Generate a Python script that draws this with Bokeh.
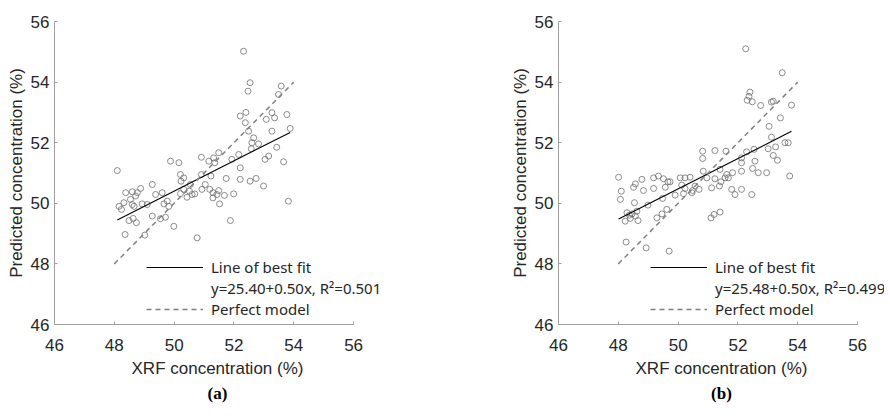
from bokeh.plotting import figure
from bokeh.layouts import row
from bokeh.models import Range1d, FixedTicker, Legend, LegendItem, Title
from bokeh.embed import file_html
from bokeh.resources import INLINE

# ---- data ----
xa = [52.32, 52.54, 52.47, 53.58, 53.49, 52.40, 53.27, 53.77, 52.21, 53.08, 53.36, 52.38, 52.49, 53.27,
      53.88, 52.66, 52.60, 52.82, 53.43, 52.58, 52.16, 51.93, 51.49, 51.32, 51.16, 51.36, 50.91, 49.88,
      50.16, 48.10, 52.21, 53.04, 53.16, 53.66, 50.21, 50.32, 50.91, 51.23, 51.74, 52.21, 52.74, 50.23,
      52.54, 52.99, 53.82, 48.38, 48.60, 48.77, 48.88, 49.27, 49.38, 49.60, 48.71, 48.54, 48.32, 48.16,
      48.24, 48.60, 48.66, 48.93, 49.10, 49.66, 49.77, 49.82, 50.21, 50.32, 50.51, 50.43, 50.60, 50.69,
      50.54, 50.93, 51.04, 51.19, 51.30, 51.43, 51.49, 51.68, 51.30, 51.52, 51.99, 48.49, 48.63, 48.74,
      49.27, 49.54, 49.71, 49.99, 51.88, 48.36, 49.02, 50.77]
ya = [55.02, 53.98, 53.70, 53.87, 53.59, 53.00, 52.99, 52.93, 52.88, 52.77, 52.82, 52.66, 52.38, 52.38,
      52.47, 52.16, 52.00, 51.96, 51.85, 51.80, 51.61, 51.45, 51.67, 51.50, 51.39, 51.34, 51.52, 51.39,
      51.34, 51.08, 51.17, 51.45, 51.56, 51.37, 50.95, 50.84, 50.95, 50.90, 50.82, 50.79, 50.82, 50.73,
      50.73, 50.57, 50.07, 50.35, 50.38, 50.35, 50.49, 50.62, 50.29, 50.35, 50.24, 50.13, 50.02, 49.90,
      49.80, 49.96, 49.90, 49.98, 49.96, 49.98, 50.07, 49.90, 50.32, 50.46, 50.40, 50.20, 50.29, 50.31,
      50.62, 50.46, 50.62, 50.46, 50.35, 50.29, 50.42, 50.26, 50.18, 49.98, 50.31, 49.43, 49.50, 49.36,
      49.58, 49.49, 49.54, 49.24, 49.43, 48.97, 48.95, 48.86]

xb = [52.26, 53.48, 52.40, 52.37, 52.31, 52.48, 53.18, 53.12, 52.76, 53.79, 53.42, 53.04, 53.12, 53.57,
      53.68, 53.26, 53.01, 53.18, 53.32, 52.54, 52.29, 52.12, 52.12, 52.57, 50.82, 50.82, 51.23, 51.60,
      50.84, 51.40, 52.12, 52.49, 52.68, 52.96, 53.73, 51.62, 51.82, 48.01, 48.79, 49.18, 49.34, 49.51,
      50.07, 50.23, 50.40, 50.96, 51.23, 51.57, 49.73, 51.43, 51.68, 48.10, 48.51, 48.57, 48.84, 49.18,
      49.57, 49.66, 50.12, 50.23, 50.48, 50.57, 50.70, 50.46, 49.90, 49.48, 48.99, 48.54, 48.07, 50.18,
      51.12, 51.38, 51.79, 51.90, 52.12, 52.46, 48.29, 48.37, 48.46, 48.62, 48.57, 48.23, 48.40, 48.66,
      49.29, 49.46, 49.62, 51.10, 51.20, 51.40, 48.26, 48.93, 49.70]
yb = [55.10, 54.31, 53.67, 53.53, 53.40, 53.35, 53.37, 53.34, 53.23, 53.24, 52.82, 52.54, 52.18, 52.00,
      52.00, 51.86, 51.80, 51.58, 51.42, 51.78, 51.70, 51.50, 51.34, 51.39, 51.72, 51.48, 51.74, 51.72,
      51.06, 51.12, 51.06, 51.15, 51.01, 51.01, 50.90, 50.95, 51.01, 50.86, 50.79, 50.84, 50.90, 50.81,
      50.84, 50.84, 50.86, 50.84, 50.81, 50.84, 50.71, 50.71, 50.84, 50.40, 50.53, 50.64, 50.42, 50.49,
      50.53, 50.71, 50.60, 50.49, 50.42, 50.57, 50.46, 50.35, 50.27, 50.16, 49.94, 50.02, 50.13, 50.32,
      50.51, 50.57, 50.46, 50.29, 50.46, 50.29, 49.69, 49.61, 49.65, 49.74, 49.58, 49.41, 49.50, 49.43,
      49.52, 49.65, 49.80, 49.52, 49.63, 49.71, 48.72, 48.53, 48.42]

fit_a = (25.40, 0.50, "0.501")
fit_b = (25.48, 0.50, "0.499")
perfect = [48, 54]
ticks = [46, 48, 50, 52, 54, 56]

AXIS_GRAY = "#a0a0a0"
TEXT = "#262626"
X_END = 56.9   # extra room on the right so the legend text is not clipped


def panel(xs, ys, fit, tag, border_left, border_right):
    icpt, slope, r2 = fit
    fw = int(round(29.9 * (X_END - 46)))
    p = figure(frame_width=fw, frame_height=303, output_backend="svg", toolbar_location=None,
               x_range=Range1d(46, X_END), y_range=Range1d(46, 56),
               min_border_left=border_left, min_border_right=border_right,
               min_border_top=21, min_border_bottom=4, x_axis_label="XRF concentration (%)",
               y_axis_label="Predicted concentration (%)")
    p.outline_line_color = None
    p.grid.visible = False
    p.xaxis.bounds = (46, 56)
    for ax in (p.xaxis[0], p.yaxis[0]):
        ax.ticker = FixedTicker(ticks=ticks)
        ax.axis_line_color = AXIS_GRAY
        ax.major_tick_line_color = AXIS_GRAY
        ax.major_tick_in = 3
        ax.major_tick_out = 0
        ax.minor_tick_line_color = None
        ax.major_label_text_font = "Liberation Sans"
        ax.major_label_text_font_size = "17px"
        ax.major_label_text_color = TEXT
        ax.axis_label_text_font = "Liberation Sans"
        ax.axis_label_text_font_size = "17px"
        ax.axis_label_text_font_style = "normal"
        ax.axis_label_text_color = TEXT
    p.xaxis.major_label_standoff = 14
    p.xaxis.axis_label_standoff = 5
    p.yaxis.major_label_standoff = 5
    p.yaxis.axis_label_standoff = 2

    p.scatter(xs, ys, marker="circle", size=6, fill_color=None, line_color="#6e6e6e", line_width=0.8)

    x0, x1 = min(xs), max(xs)
    fit_r = p.line([x0, x1], [icpt + slope * x0, icpt + slope * x1], line_color="black", line_width=1.1)
    dummy = p.line([x0, x1], [icpt + slope * x0, icpt + slope * x1], line_alpha=0)
    perf_r = p.line(perfect, perfect, line_color="#808080", line_width=1.5, line_dash="5 4")

    legend = Legend(items=[
        LegendItem(label="Line of best fit", renderers=[fit_r]),
        LegendItem(label="y=%.2f+%.2fx, R\u00b2=%s" % (icpt, slope, r2), renderers=[dummy]),
        LegendItem(label="Perfect model", renderers=[perf_r]),
    ], location=(92, 5), padding=0, margin=0, spacing=1, glyph_width=57, glyph_height=20,
        label_height=20, label_standoff=8, background_fill_alpha=0, border_line_alpha=0,
        label_text_font="Noto Sans", label_text_font_size="15px", label_text_color=TEXT)
    p.add_layout(legend, "center")

    p.add_layout(Title(text=tag, align="center", text_font="Liberation Serif",
                       text_font_size="17px", text_font_style="bold", text_color="black",
                       standoff=2), "below")
    return p


extra = int(round(29.9 * (X_END - 56)))
p1 = panel(xa, ya, fit_a, "(a)", 54, 89 - extra)
p2 = panel(xb, yb, fit_b, "(b)", 116, max(17 - extra, 0))
layout = row(p1, p2)

open("out.html", "w").write(file_html(layout, INLINE))
